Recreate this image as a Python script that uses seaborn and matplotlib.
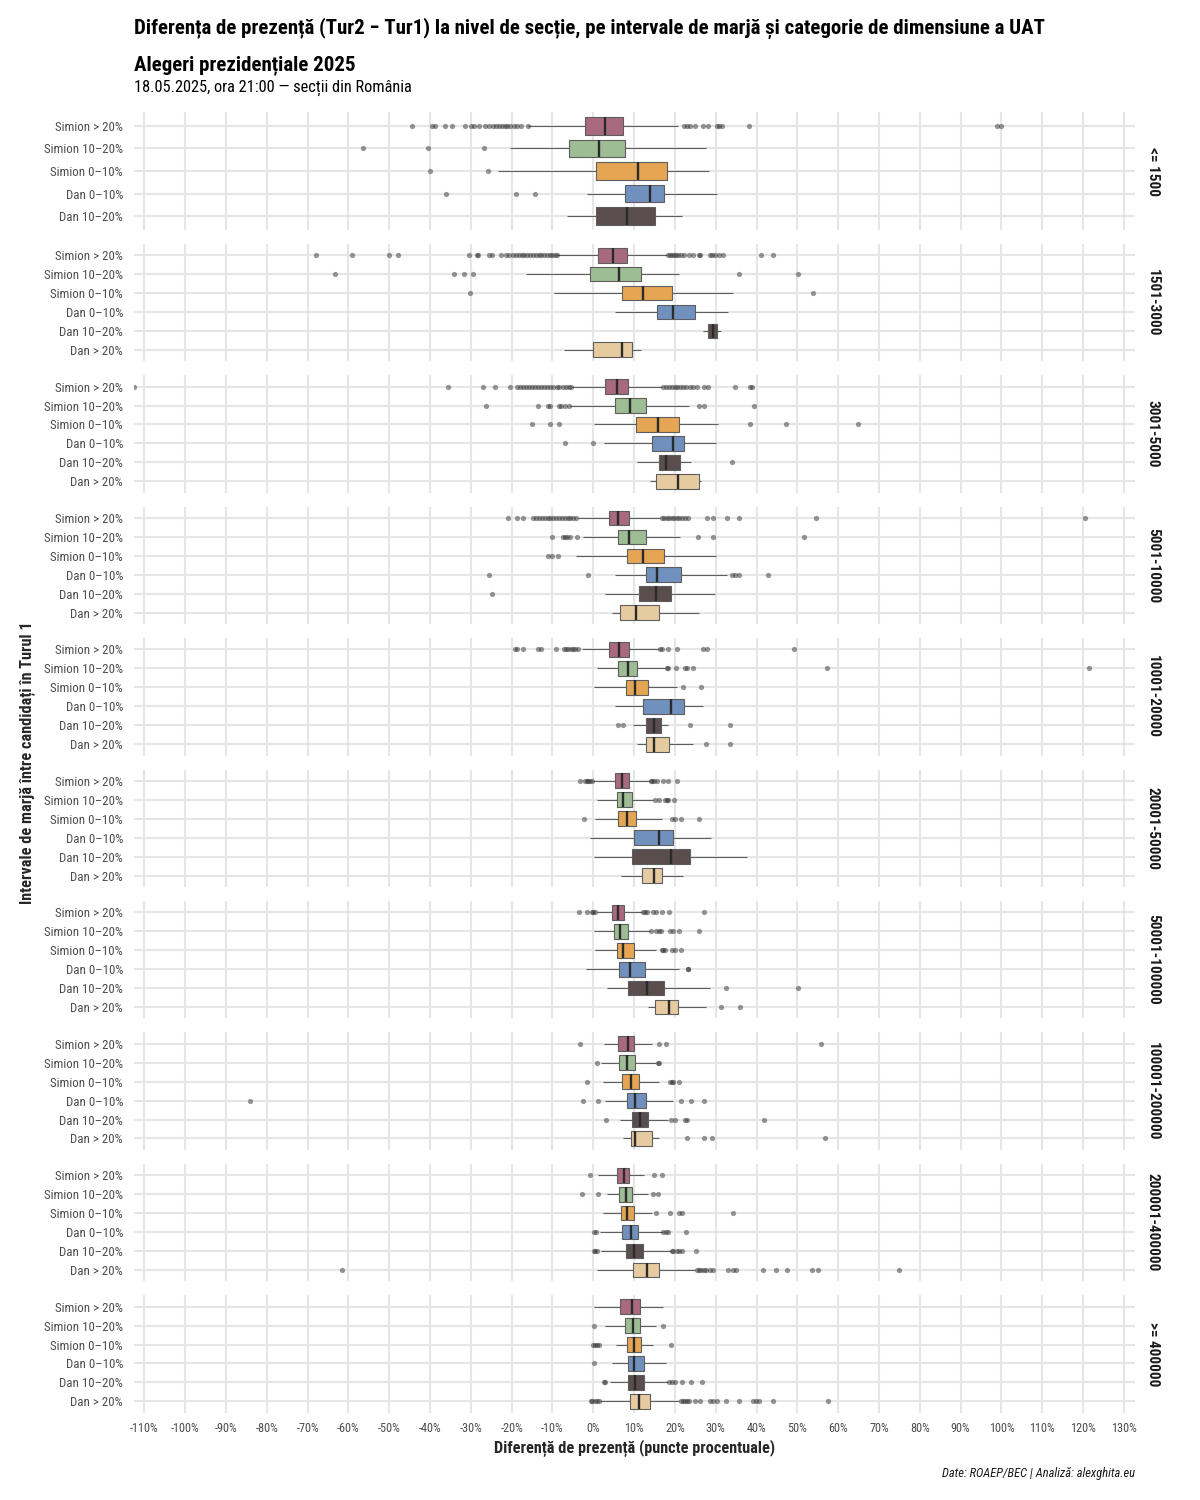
import matplotlib as mpl
import matplotlib.pyplot as plt
from matplotlib import font_manager
from matplotlib.ticker import FuncFormatter
import pandas as pd
import seaborn as sns

# UAT size categories (one facet each) and margin intervals (rows)
sizes = ['<= 1500', '1501-3000', '3001-5000', '5001-10000', '10001-20000',
         '20001-50000', '50001-100000', '100001-200000', '200001-400000', '>= 400000']
margins = ['Simion > 20%', 'Simion 10–20%', 'Simion 0–10%',
           'Dan 0–10%', 'Dan 10–20%', 'Dan > 20%']
colors = ['#a9697f', '#9dbd95', '#e5a553', '#7090be', '#5a4d4d', '#e6cba0']

# box summaries: [whisker low, q1, median, q3, whisker high]
box_1 = [[-15.9, -2.0, 2.9, 7.2, 20.7], [-20.4, -5.9, 1.4, 7.7, 27.6],
         [-23.3, 0.7, 11.0, 18.0, 28.3], [-1.6, 7.8, 13.9, 17.3, 30.3],
         [-6.5, 0.7, 8.2, 15.0, 21.7]]
box_2 = [[-8.8, 1.2, 4.9, 8.2, 18.0], [-16.4, -0.7, 6.2, 11.8, 20.9],
         [-9.6, 7.0, 12.3, 19.3, 34.2], [5.2, 15.7, 19.5, 24.9, 32.9],
         [26.9, 28.1, 29.3, 30.4, 31.4], [-7.2, -0.1, 7.1, 9.4, 11.6]]
box_3 = [[-5.1, 2.9, 5.7, 8.4, 16.8], [-5.7, 5.4, 9.1, 12.9, 23.5],
         [0.2, 10.4, 15.8, 21.1, 30.5], [2.6, 14.4, 19.6, 22.3, 30.0],
         [10.6, 16.2, 17.7, 21.3, 24.0], [13.9, 15.3, 20.8, 25.8, 26.4]]
box_4 = [[-3.7, 3.8, 6.1, 8.8, 16.4], [-2.5, 6.1, 8.7, 12.8, 21.3],
         [-4.3, 8.2, 12.1, 17.4, 30.1], [5.2, 13.0, 15.5, 21.4, 32.7],
         [2.9, 11.3, 15.3, 19.0, 29.8], [4.7, 6.6, 10.5, 16.2, 25.9]]
box_5 = [[-2.7, 3.9, 6.2, 8.7, 16.1], [0.8, 6.1, 8.4, 10.6, 17.6],
         [0.2, 7.9, 10.1, 13.5, 20.5], [5.2, 12.3, 19.0, 22.2, 26.8],
         [9.8, 13.0, 14.8, 16.5, 18.4], [10.6, 12.8, 14.9, 18.5, 24.4]]
box_6 = [[0.0, 5.2, 7.0, 8.7, 13.9], [0.8, 5.7, 7.4, 9.4, 14.7],
         [0.5, 6.1, 8.3, 10.5, 16.8], [-0.8, 10.0, 16.2, 19.5, 28.9],
         [0.2, 9.6, 19.1, 23.6, 37.6], [6.7, 12.0, 14.9, 16.8, 22.0]]
box_7 = [[0.8, 4.7, 6.1, 7.5, 12.0], [0.2, 5.1, 6.5, 8.4, 13.9],
         [0.4, 5.8, 7.4, 9.9, 15.3], [-1.9, 6.4, 9.0, 12.7, 21.0],
         [3.4, 8.4, 13.1, 17.3, 28.6], [13.3, 15.1, 18.6, 20.7, 27.5]]
box_8 = [[2.6, 6.0, 8.4, 9.9, 14.3], [1.9, 6.4, 8.2, 10.1, 15.3],
         [2.5, 7.1, 9.3, 11.2, 16.0], [2.9, 8.3, 10.3, 13.0, 19.6],
         [6.5, 9.5, 11.4, 13.3, 18.4], [7.4, 9.2, 10.3, 14.4, 16.1]]
box_9 = [[1.1, 5.7, 7.5, 8.8, 12.5], [3.4, 6.4, 7.9, 9.4, 13.3],
         [2.5, 6.8, 8.3, 10.0, 14.3], [1.6, 7.0, 9.2, 11.0, 17.0],
         [2.0, 8.1, 10.0, 12.3, 19.0], [1.0, 9.8, 13.1, 16.2, 24.9]]
box_10 = [[0.2, 6.6, 9.6, 11.4, 17.0], [2.9, 7.8, 9.8, 11.5, 15.3],
          [5.6, 8.3, 10.0, 11.7, 14.6], [4.5, 8.6, 10.0, 12.5, 17.8],
          [4.1, 8.6, 10.3, 12.4, 18.2], [1.6, 9.0, 11.3, 13.9, 21.1]]

# outlier points per margin row
out_1 = [[-44.3, -39.4, -38.9, -36.3, -34.6, -31.4, -30.0, -29.3, -27.9, -26.5, -25.5,
          -24.6, -23.8, -23.0, -22.4, -21.7, -21.1, -20.4, -19.5, -18.8, -17.8, -16.1,
          22.2, 22.9, 23.7, 24.8, 26.8, 28.0, 30.4, 30.9, 31.5, 38.1, 99.0, 100.0],
         [-56.5, -40.5, -26.7], [-40.0, -25.8], [-36.0, -19.0, -14.2], []]
out_2 = [[-68.0, -59.0, -50.0, -47.8, -30.4, -28.6, -28.2, -25.5, -24.9, -22.6, -21.5,
          -20.7, -19.7, -18.9, -18.2, -17.5, -16.9, -16.2, -15.6, -14.8, -14.1, -13.4,
          -12.7, -12.0, -11.3, -10.6, -10.0, -9.4, -8.9, 18.4, 18.9, 19.4, 19.8, 20.3,
          20.8, 21.4, 22.2, 23.5, 24.4, 25.8, 26.2, 28.5, 29.2, 29.8, 30.9, 31.7, 41.1, 44.0],
         [-63.3, -34.1, -31.7, -29.5, 35.6, 50.1], [-30.1, 53.8], [], [], []]
out_3 = [[-112.4, -35.5, -27.0, -24.0, -20.4, -18.8, -18.0, -17.2, -16.5, -15.8, -15.0,
          -14.2, -13.5, -12.8, -12.0, -11.3, -10.5, -9.8, -9.0, -8.3, -7.5, -6.8, -6.0,
          -5.4, 17.2, 17.8, 18.5, 19.2, 19.9, 20.6, 21.3, 22.0, 22.8, 23.6, 24.5, 25.3,
          27.0, 28.2, 34.7, 38.3, 38.8],
         [-26.3, -13.5, -11.0, -10.5, -8.4, -7.8, -7.0, -5.9, 25.9, 27.1, 39.4],
         [-15.0, -10.5, -8.4, 38.4, 47.3, 64.8], [-7.0, 0.0], [34.1], []]
out_4 = [[-20.9, -18.8, -17.3, -14.7, -14.0, -13.3, -12.6, -11.9, -11.2, -10.5, -9.8,
          -9.1, -8.4, -7.7, -7.0, -6.3, -5.6, -4.9, -4.2, 16.8, 17.4, 18.0, 18.6, 19.2,
          19.8, 20.4, 21.0, 21.7, 22.5, 23.3, 27.8, 29.4, 32.7, 35.7, 54.6, 120.4],
         [-10.1, -7.4, -7.0, -6.4, -5.6, -3.9, 25.7, 29.4, 51.7],
         [-11.0, -10.0, -8.7], [-25.5, -1.2, 34.1, 34.8, 35.6, 42.8], [-24.7], []]
out_5 = [[-19.2, -18.6, -17.2, -13.5, -12.8, -9.2, -7.1, -6.6, -6.1, -5.5, -5.0, -4.4,
          -3.7, 16.4, 16.8, 18.4, 20.6, 26.8, 27.8, 49.1],
         [18.0, 18.3, 20.3, 22.5, 22.9, 24.5, 57.2, 121.4], [22.0, 26.3], [],
         [6.1, 7.4, 23.8, 33.4], [27.6, 33.4]]
out_6 = [[-3.3, -2.0, -1.6, -1.2, -0.8, -0.4, 14.1, 14.5, 14.9, 15.5, 17.0, 18.2, 20.5],
         [15.0, 16.2, 17.6, 18.0, 18.4, 19.8], [-2.2, 19.2, 20.0, 21.5, 25.8], [], [], []]
out_7 = [[-3.6, -1.6, -0.4, 0.0, 0.4, 12.3, 12.6, 13.1, 14.7, 15.4, 16.8, 18.6, 27.2],
         [14.1, 15.3, 16.0, 16.5, 18.8, 19.5, 21.0, 26.0],
         [16.8, 17.2, 17.6, 19.2, 19.9, 21.5], [23.1, 23.3], [32.5, 50.2], [31.4, 35.9]]
out_8 = [[-3.2, 16.1, 17.9, 55.9], [0.8, 15.8, 16.2], [-1.6, 18.8, 19.2, 19.5, 21.1],
         [-84.2, -2.5, 1.1, 21.5, 24.0, 27.2], [3.1, 19.1, 20.0, 22.5, 22.9, 41.7],
         [22.9, 27.0, 29.0, 56.8]]
out_9 = [[-0.8, 14.9, 16.8], [-2.8, 1.1, 14.6, 15.9], [15.3, 18.9, 21.0, 21.8, 34.2],
         [0.2, 0.6, 17.2, 17.8, 18.4, 22.7],
         [0.2, 0.5, 0.8, 19.3, 19.6, 20.4, 21.0, 21.8, 25.1],
         [-61.6, 25.5, 26.0, 26.5, 27.0, 27.6, 28.6, 29.4, 32.9, 34.3, 34.9, 41.5, 44.7,
          47.4, 53.6, 55.0, 75.0]]
out_10 = [[], [0.2, 17.2], [0.0, 0.4, 0.9, 1.5, 19.1], [0.2],
          [2.6, 2.9, 18.6, 19.4, 20.0, 21.8, 23.9, 26.7],
          [-0.6, -0.2, 0.3, 0.8, 1.3, 21.4, 21.9, 22.4, 22.9, 23.5, 25.0, 26.2, 28.5,
           29.3, 30.4, 32.4, 35.7, 39.1, 39.9, 40.5, 44.0, 57.5]]

x_ticks = list(range(-110, 131, 10))

box_stats = [box_1, box_2, box_3, box_4, box_5, box_6, box_7, box_8, box_9, box_10]
outliers = [out_1, out_2, out_3, out_4, out_5, out_6, out_7, out_8, out_9, out_10]

# long tables: the five summary values per box, and the outlier points
rows_box, rows_out = [], []
for size, boxes, outs in zip(sizes, box_stats, outliers):
    for margin, stats, pts in zip(margins, boxes, outs):
        rows_box += [(size, margin, v) for v in stats]
        rows_out += [(size, margin, v) for v in pts]
df_box = pd.DataFrame(rows_box, columns=['size', 'margin', 'value'])
df_out = pd.DataFrame(rows_out, columns=['size', 'margin', 'value'])
palette = dict(zip(margins, colors))

sns.set_theme(style='whitegrid', rc={
    'grid.color': '#e6e6e6', 'grid.linewidth': 1.5,
    'axes.edgecolor': 'white', 'axes.spines.left': False, 'axes.spines.bottom': False,
    'axes.spines.right': False, 'axes.spines.top': False,
})
available = {f.name for f in font_manager.fontManager.ttflist}
fams = [f for f in ['Roboto Condensed', 'Liberation Sans Narrow', 'Roboto'] if f in available]
plt.rcParams['font.family'] = fams + ['DejaVu Sans']

g = sns.FacetGrid(df_box, row='size', row_order=sizes, sharex=True, sharey=False,
                  height=1.2, aspect=8.5, despine=False)

for size, ax in g.axes_dict.items():
    sub = df_box[df_box['size'] == size]
    present = [m for m in margins if m in set(sub['margin'])]
    sns.boxplot(data=sub, x='value', y='margin', hue='margin', order=present,
                hue_order=present, palette=palette, whis=(0, 100), width=0.78,
                saturation=1, linewidth=0.8, linecolor='#5e5e5e', showfliers=False,
                showcaps=False,
                medianprops=dict(color='#2b2b2b', linewidth=1.7),
                legend=False, ax=ax)
    osub = df_out[df_out['size'] == size]
    sns.stripplot(data=osub, x='value', y='margin', order=present, jitter=False,
                  color='#333333', alpha=0.5, size=3.8, linewidth=0, ax=ax)
    n = len(present)
    ax.set_ylim(n - 1 + 0.6, -0.6)
    ax.yaxis.grid(True)
    ax.xaxis.grid(True)
    ax.set_axisbelow(True)
    ax.set_title('')
    ax.set_xlabel('')
    ax.set_ylabel('')
    ax.tick_params(axis='y', length=0, pad=8, labelsize=9.3, labelcolor='#4d4d4d')
    ax.tick_params(axis='x', length=0, pad=7, labelsize=8.8, labelcolor='#4d4d4d')
    ax.text(1.011, 0.5, size, transform=ax.transAxes, rotation=270,
            ha='left', va='center', fontsize=11, fontweight='bold', color='#1a1a1a')

ax0 = g.axes.flat[0]
ax0.set_xlim(-112.45, 132.7)
ax0.set_xticks(x_ticks)
ax0.xaxis.set_major_formatter(FuncFormatter(lambda v, p: f'{v:.0f}%'))

fig = g.figure
fig.set_size_inches(12, 15)
fig.subplots_adjust(left=0.1119, right=0.9458, top=0.9251, bottom=0.0582, hspace=0.119)

fig.text(0.1119, 1 - 28 / 1500,
         'Diferența de prezență (Tur2 − Tur1) la nivel de secție, pe intervale de marjă și categorie de dimensiune a UAT',
         ha='left', va='center', fontsize=15, fontweight='bold', color='black')
fig.text(0.1119, 1 - 65 / 1500, 'Alegeri prezidențiale 2025',
         ha='left', va='center', fontsize=15, fontweight='bold', color='black')
fig.text(0.1119, 1 - 88 / 1500, '18.05.2025, ora 21:00 — secții din România',
         ha='left', va='center', fontsize=11.8, color='black')
fig.text(27 / 1200, 1 - 762.5 / 1500, 'Intervale de marjă între candidați în Turul 1',
         rotation=90, ha='center', va='center', fontsize=11.7, fontweight='bold')
fig.text(634.6 / 1200, 1 - 1448 / 1500, 'Diferență de prezență (puncte procentuale)',
         ha='center', va='center', fontsize=11.7, fontweight='bold')
fig.text(1135 / 1200, 1 - 1474 / 1500, 'Date: ROAEP/BEC | Analiză: alexghita.eu',
         ha='right', va='center', fontsize=9, style='italic', color='#1a1a1a')

fig.savefig('out.png', dpi=100, facecolor='white')
